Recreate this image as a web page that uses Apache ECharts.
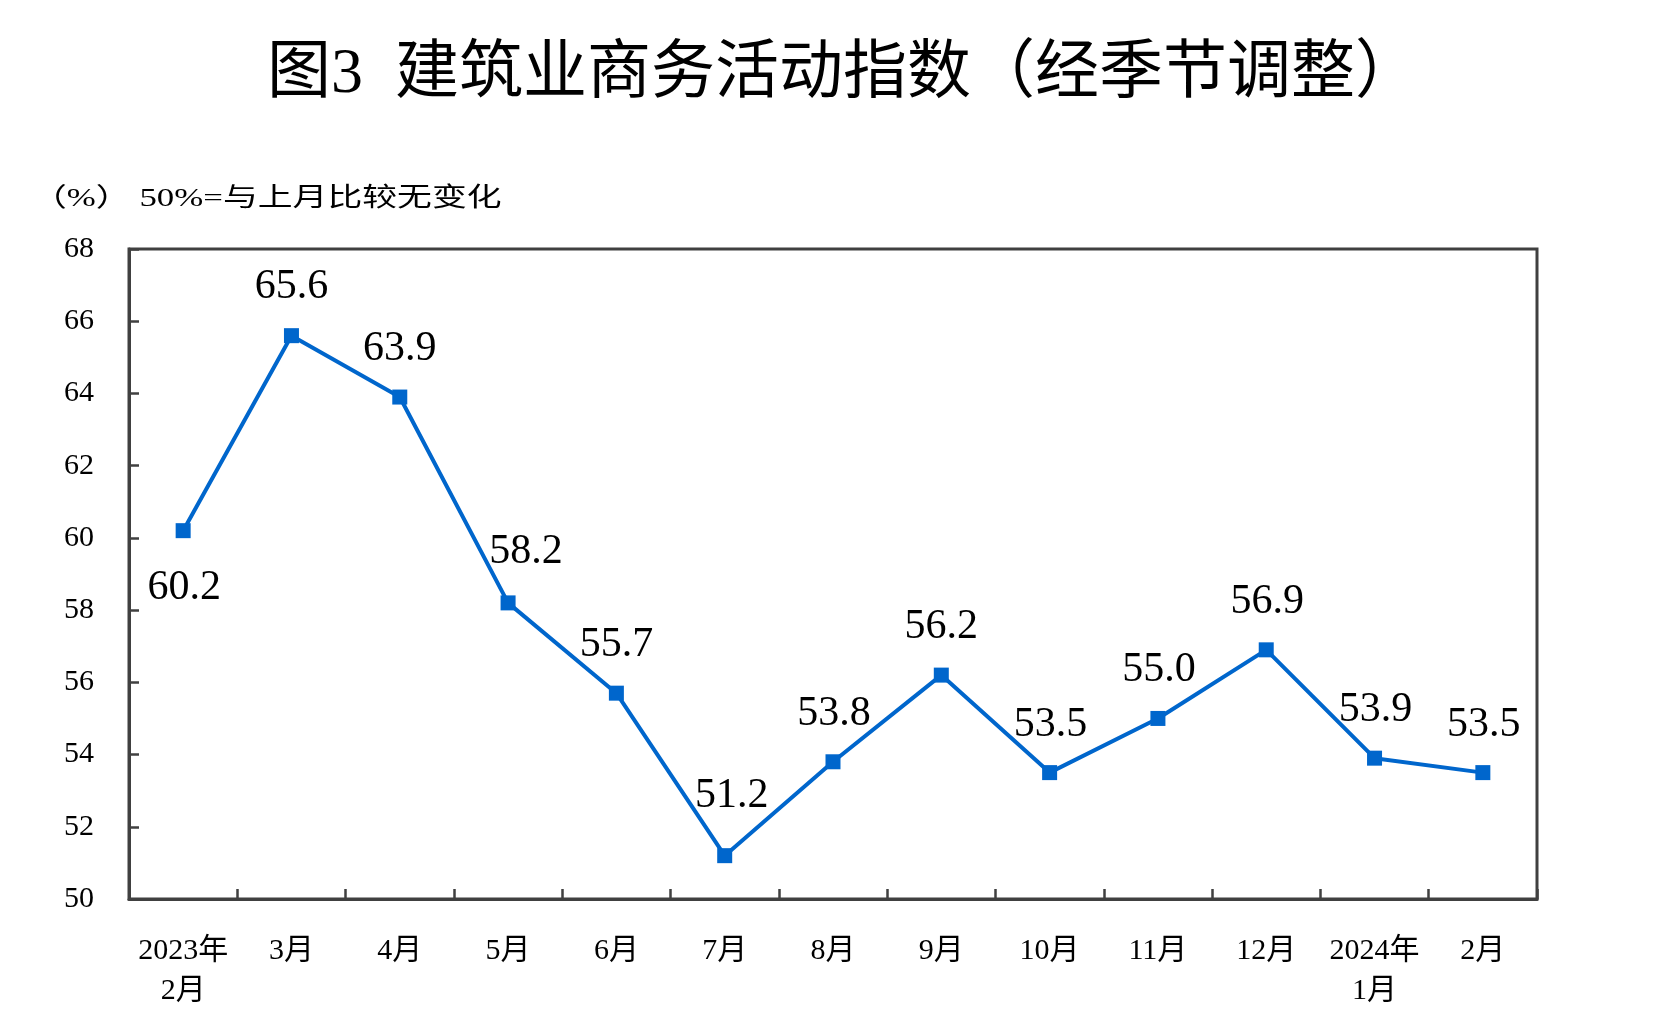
<!DOCTYPE html>
<html><head><meta charset="utf-8">
<script src="https://cdn.jsdelivr.net/npm/echarts@6/dist/echarts.min.js"></script>
<style>html,body{margin:0;padding:0;background:#fff}#c{width:1659px;height:1029px}</style>
</head><body><div id="c"></div>
<script>
const categories = ['2023年\n2月','3月','4月','5月','6月','7月','8月','9月','10月','11月','12月','2024年\n1月','2月'];
const values = [60.2,65.6,63.9,58.2,55.7,51.2,53.8,56.2,53.5,55.0,56.9,53.9,53.5];
const titleText = '图3  建筑业商务活动指数（经季节调整）';
const noteText = '（%） 50%=与上月比较无变化';
const yMin = 50, yMax = 68, yStep = 2;

const FONT = "'Liberation Serif','Noto Sans CJK SC',serif";
const labelOffsets = [[1,57],[0,-49],[0,-48],[18,-51],[0,-48],[7,-60],[1,-48],[0,-48],[1,-48],[1,-48],[1,-48],[1,-48],[1,-48]];
const axisColor = '#404040';

const chart = echarts.init(document.getElementById('c'));
chart.setOption({
  animation: false,
  backgroundColor: '#fff',
  title: {
    text: titleText, left: 262, top: 38, padding: 5,
    textStyle: {fontSize: 64, fontWeight: 'normal', fontFamily: FONT, color: '#000'}
  },
  graphic: [{
    type: 'text', left: 32, top: 186, scaleX: 1.34,
    style: {text: noteText, fontSize: 26, fontFamily: FONT, fill: '#000'}
  }],
  grid: {left: 129, right: 122, top: 249, bottom: 130, containLabel: false,
    show: true, borderColor: axisColor, borderWidth: 3, backgroundColor: 'transparent'},
  xAxis: {
    type: 'category', data: categories, boundaryGap: true,
    axisLine: {show: true, lineStyle: {color: axisColor, width: 3}},
    axisTick: {show: true, inside: true, length: 10, lineStyle: {color: axisColor, width: 2.5}},
    axisLabel: {margin: 32, fontSize: 30, lineHeight: 40, fontFamily: FONT, color: '#000', interval: 0}
  },
  yAxis: {
    type: 'value', min: yMin, max: yMax, interval: yStep,
    splitLine: {show: false},
    axisLine: {show: true, lineStyle: {color: axisColor, width: 3}},
    axisTick: {show: true, inside: true, length: 10, lineStyle: {color: axisColor, width: 2.5}},
    axisLabel: {margin: 35, fontSize: 30, fontFamily: FONT, color: '#000'}
  },
  series: [{
    type: 'line',
    data: values.map((v, i) => ({value: v, label: {offset: labelOffsets[i]}})),
    symbol: 'rect', symbolSize: 15,
    lineStyle: {color: '#0066CC', width: 4},
    itemStyle: {color: '#0066CC'},
    label: {show: true, position: 'inside', fontSize: 42, fontFamily: FONT, color: '#000',
      formatter: p => Number(p.value).toFixed(1)}
  }]
});
</script></body></html>
